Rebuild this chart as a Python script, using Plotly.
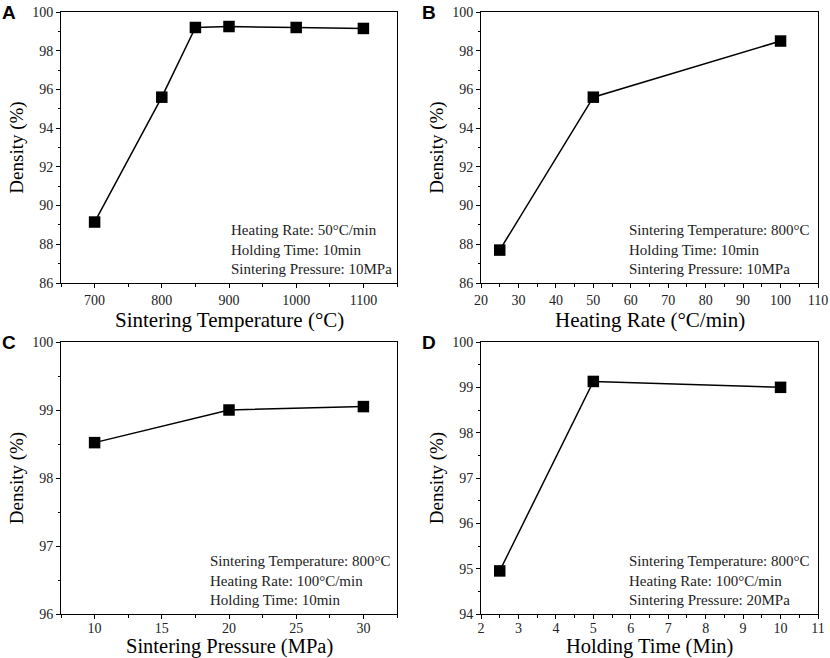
import plotly.graph_objects as go

# panel A: sintering temperature
temp_c = [700, 800, 850, 900, 1000, 1100]
density_temp = [89.15, 95.6, 99.2, 99.25, 99.2, 99.15]

# panel B: heating rate
rate_c_min = [25, 50, 100]
density_rate = [87.7, 95.6, 98.5]

# panel C: sintering pressure
pressure_mpa = [10, 20, 30]
density_pressure = [98.52, 99.0, 99.05]

# panel D: holding time
hold_min = [2.5, 5, 10]
density_hold = [94.95, 99.13, 99.0]

notes = {
    "A": ["Heating Rate: 50°C/min", "Holding Time: 10min", "Sintering Pressure: 10MPa"],
    "B": ["Sintering Temperature: 800°C", "Holding Time: 10min", "Sintering Pressure: 10MPa"],
    "C": ["Sintering Temperature: 800°C", "Heating Rate: 100°C/min", "Holding Time: 10min"],
    "D": ["Sintering Temperature: 800°C", "Heating Rate: 100°C/min", "Sintering Pressure: 20MPa"],
}

SERIF = "Liberation Serif"
W, H = 830, 658

# (letter, x, y, x-domain px, y-domain px, xrange, xdtick, xminor, yrange, ydtick, yminor,
#  xtitle, x-title centre y px, note x px)
panels = [
    ("A", temp_c, density_temp, (61, 397), (12, 283), [650, 1150], 100, 50,
     [86, 100], 2, 1, "Sintering Temperature (°C)", 320, 229),
    ("B", rate_c_min, density_rate, (481, 818), (12, 283), [20, 110], 10, 5,
     [86, 100], 2, 1, "Heating Rate (°C/min)", 320, 627),
    ("C", pressure_mpa, density_pressure, (61, 397), (342, 614), [7.5, 32.5], 5, 2.5,
     [96, 100], 1, 0.5, "Sintering Pressure (MPa)", 646, 208),
    ("D", hold_min, density_hold, (481, 818), (342, 614), [2, 11], 1, 0.5,
     [94, 100], 1, 0.5, "Holding Time (Min)", 646, 627),
]

fig = go.Figure()
annotations = []

for i, (letter, xs, ys, xd, yd, xr, xdt, xmn, yr, ydt, ymn, xtitle, title_y, note_x) in enumerate(panels, start=1):
    suffix = "" if i == 1 else str(i)
    bottom_row = yd[1] > H / 2
    fig.add_trace(go.Scatter(
        x=xs, y=ys,
        mode="lines+markers",
        line=dict(color="black", width=1.5),
        marker=dict(symbol="square", size=11.5, color="black"),
        xaxis="x" + suffix, yaxis="y" + suffix,
        showlegend=False,
    ))
    common = dict(
        showline=True, linecolor="black", linewidth=1, mirror=True,
        ticks="outside", ticklen=4, tickcolor="black", tickwidth=1,
        showgrid=False, zeroline=False, automargin=False,
        tickfont=dict(family=SERIF, size=14, color="#222"),
    )
    fig.update_layout(**{
        "xaxis" + suffix: dict(
            common,
            domain=[xd[0] / W, xd[1] / W],
            anchor="y" + suffix,
            range=xr, dtick=xdt, tick0=xs[0] if letter == "A" else 0,
            ticklabelstandoff=-3 if bottom_row else 0,
            minor=dict(ticks="outside", ticklen=2.5, dtick=xmn, tickcolor="black"),
        ),
        "yaxis" + suffix: dict(
            common,
            domain=[1 - yd[1] / H, 1 - yd[0] / H],
            anchor="x" + suffix,
            range=yr, dtick=ydt,
            minor=dict(ticks="outside", ticklen=2.5, dtick=ymn, tickcolor="black"),
            title=dict(text="Density (%)", font=dict(family=SERIF, size=19, color="black"), standoff=3),
        ),
    })
    # x titles as annotations so the bottom row is not squeezed against its tick labels
    annotations.append(dict(
        text=xtitle,
        xref="paper", yref="paper",
        x=(xd[0] + xd[1]) / 2 / W, y=1 - title_y / H,
        xanchor="center", yanchor="middle", showarrow=False,
        borderpad=0,
        font=dict(family=SERIF, size=21 if not bottom_row else 20.5, color="black"),
    ))
    annotations.append(dict(
        text="<br>".join(notes[letter]),
        xref="paper", yref="paper",
        x=note_x / W, y=1 - (yd[1] - 4) / H,
        xanchor="left", yanchor="bottom", align="left", showarrow=False,
        font=dict(family=SERIF, size=15, color="#222"),
    ))
    annotations.append(dict(
        text="<b>" + letter + "</b>",
        xref="paper", yref="paper",
        x=(xd[0] - 61) / W, y=1 - (yd[0] - 12) / H,
        xanchor="left", yanchor="top", showarrow=False,
        font=dict(family="Liberation Sans", size=19, color="black"),
    ))

fig.update_layout(
    width=W, height=H,
    margin=dict(l=0, r=0, t=0, b=0),
    paper_bgcolor="white", plot_bgcolor="white",
    annotations=annotations,
)

# the page body has a default 8px margin; drop it so the figure fills the window
fig.write_html(
    "out.html",
    config={"displayModeBar": False},
    post_script="document.body.style.margin = '0';",
)
